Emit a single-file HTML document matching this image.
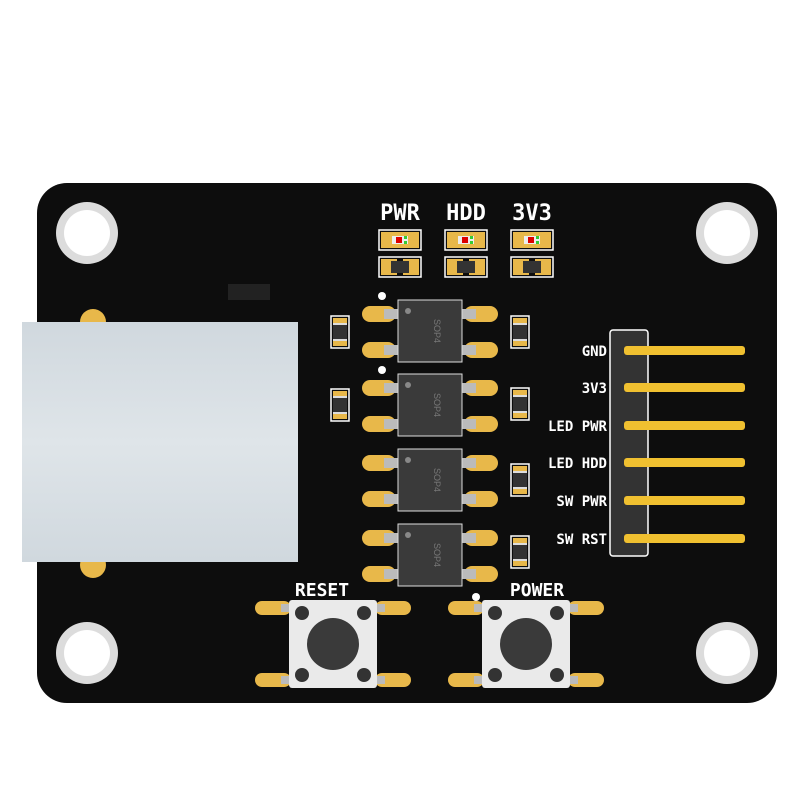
<!DOCTYPE html>
<html><head><style>body{margin:0;background:#fff}svg{display:block}text{font-family:"DejaVu Sans Mono","Liberation Mono",monospace;font-weight:bold;fill:#fff}</style></head><body>
<svg width="800" height="800" viewBox="0 0 800 800" xmlns="http://www.w3.org/2000/svg">
<defs>
<g id="hole"><circle r="31" fill="#dcdcdc"/><circle r="23" fill="#fff"/></g>
<g id="res"><rect x="-9" y="-16" width="18" height="32" fill="none" stroke="#fff" stroke-width="1.5"/><rect x="-7" y="-14" width="14" height="28" fill="#e8b84a"/><rect x="-7" y="-7" width="14" height="14" fill="#333"/><rect x="-7" y="-9" width="14" height="2" fill="#ddd"/><rect x="-7" y="7" width="14" height="2" fill="#ddd"/></g>
<g id="hres"><rect x="-21" y="-10" width="42" height="20" fill="none" stroke="#fff" stroke-width="1.5"/><rect x="-19" y="-8" width="16" height="16" fill="#e8b84a"/><rect x="3" y="-8" width="16" height="16" fill="#e8b84a"/><rect x="-9" y="-6" width="18" height="12" fill="#333"/></g>
<g id="led"><rect x="-21" y="-10" width="42" height="20" fill="none" stroke="#fff" stroke-width="1.5"/><rect x="-19" y="-8" width="38" height="16" fill="#e8b84a"/><rect x="-8" y="-4" width="16" height="8" fill="#eee"/><rect x="-4" y="-3" width="6" height="6" fill="#d00"/><rect x="4" y="-4" width="3" height="3" fill="#3c3"/><rect x="4" y="1" width="3" height="3" fill="#3c3"/></g>
<g id="chip"><rect x="-68" y="-25" width="34" height="16" rx="8" fill="#e8b84a"/><rect x="34" y="-25" width="34" height="16" rx="8" fill="#e8b84a"/><rect x="-68" y="11" width="34" height="16" rx="8" fill="#e8b84a"/><rect x="34" y="11" width="34" height="16" rx="8" fill="#e8b84a"/><rect x="-46" y="-22" width="14" height="10" fill="#bbb"/><rect x="32" y="-22" width="14" height="10" fill="#bbb"/><rect x="-46" y="14" width="14" height="10" fill="#bbb"/><rect x="32" y="14" width="14" height="10" fill="#bbb"/><rect x="-32" y="-31" width="64" height="62" fill="#3a3a3a" stroke="#ddd" stroke-width="1"/><circle cx="-22" cy="-20" r="3" fill="#888"/><text transform="translate(4,0) rotate(90)" text-anchor="middle" font-size="9" style="fill:#777;font-weight:normal;font-family:'Liberation Sans',sans-serif">SOP4</text></g>
<g id="btn"><rect x="-78" y="-43" width="36" height="14" rx="7" fill="#e8b84a"/><rect x="42" y="-43" width="36" height="14" rx="7" fill="#e8b84a"/><rect x="-78" y="29" width="36" height="14" rx="7" fill="#e8b84a"/><rect x="42" y="29" width="36" height="14" rx="7" fill="#e8b84a"/><rect x="-52" y="-40" width="10" height="8" fill="#bbb"/><rect x="42" y="-40" width="10" height="8" fill="#bbb"/><rect x="-52" y="32" width="10" height="8" fill="#bbb"/><rect x="42" y="32" width="10" height="8" fill="#bbb"/><rect x="-44" y="-44" width="88" height="88" rx="3" fill="#eaeaea"/><circle cx="-31" cy="-31" r="7" fill="#333"/><circle cx="31" cy="-31" r="7" fill="#333"/><circle cx="-31" cy="31" r="7" fill="#333"/><circle cx="31" cy="31" r="7" fill="#333"/><circle r="26" fill="#3a3a3a"/></g>
<linearGradient id="eth" x1="0" x2="0" y1="0" y2="1"><stop offset="0" stop-color="#d0d8de"/><stop offset="0.5" stop-color="#dfe5e9"/><stop offset="1" stop-color="#d0d8de"/></linearGradient>
</defs>
<rect x="37" y="183" width="740" height="520" rx="30" fill="#0d0d0d"/>
<use href="#hole" x="87" y="233"/><use href="#hole" x="727" y="233"/><use href="#hole" x="87" y="653"/><use href="#hole" x="727" y="653"/>
<rect x="228" y="284" width="42" height="16" fill="#222"/>
<circle cx="93" cy="322" r="13" fill="#e8b84a"/><circle cx="93" cy="565" r="13" fill="#e8b84a"/>
<rect x="22" y="322" width="276" height="240" fill="url(#eth)"/>
<text x="400" y="220" text-anchor="middle" font-size="22">PWR</text>
<text x="466" y="220" text-anchor="middle" font-size="22">HDD</text>
<text x="532" y="220" text-anchor="middle" font-size="22">3V3</text>
<use href="#led" x="400" y="240"/><use href="#led" x="466" y="240"/><use href="#led" x="532" y="240"/>
<use href="#hres" x="400" y="267"/><use href="#hres" x="466" y="267"/><use href="#hres" x="532" y="267"/>
<use href="#chip" x="430" y="331"/><use href="#chip" x="430" y="405"/><use href="#chip" x="430" y="480"/><use href="#chip" x="430" y="555"/>
<circle cx="382" cy="296" r="4" fill="#fff"/><circle cx="382" cy="370" r="4" fill="#fff"/><circle cx="476" cy="597" r="4" fill="#fff"/>
<use href="#res" x="340" y="332"/><use href="#res" x="340" y="405"/><use href="#res" x="520" y="332"/><use href="#res" x="520" y="404"/><use href="#res" x="520" y="480"/><use href="#res" x="520" y="552"/>
<rect x="610" y="330" width="38" height="226" rx="3" fill="#333" stroke="#fff" stroke-width="1.5"/>
<g fill="#f0c030"><rect x="624" y="346" width="121" height="9" rx="3"/><rect x="624" y="383" width="121" height="9" rx="3"/><rect x="624" y="421" width="121" height="9" rx="3"/><rect x="624" y="458" width="121" height="9" rx="3"/><rect x="624" y="496" width="121" height="9" rx="3"/><rect x="624" y="534" width="121" height="9" rx="3"/></g>
<g font-size="14" text-anchor="end"><text x="607" y="356">GND</text><text x="607" y="393">3V3</text><text x="607" y="431">LED PWR</text><text x="607" y="468">LED HDD</text><text x="607" y="506">SW PWR</text><text x="607" y="544">SW RST</text></g>
<text x="322" y="596" text-anchor="middle" font-size="18">RESET</text>
<text x="537" y="596" text-anchor="middle" font-size="18">POWER</text>
<use href="#btn" x="333" y="644"/><use href="#btn" x="526" y="644"/>
</svg>
</body></html>
